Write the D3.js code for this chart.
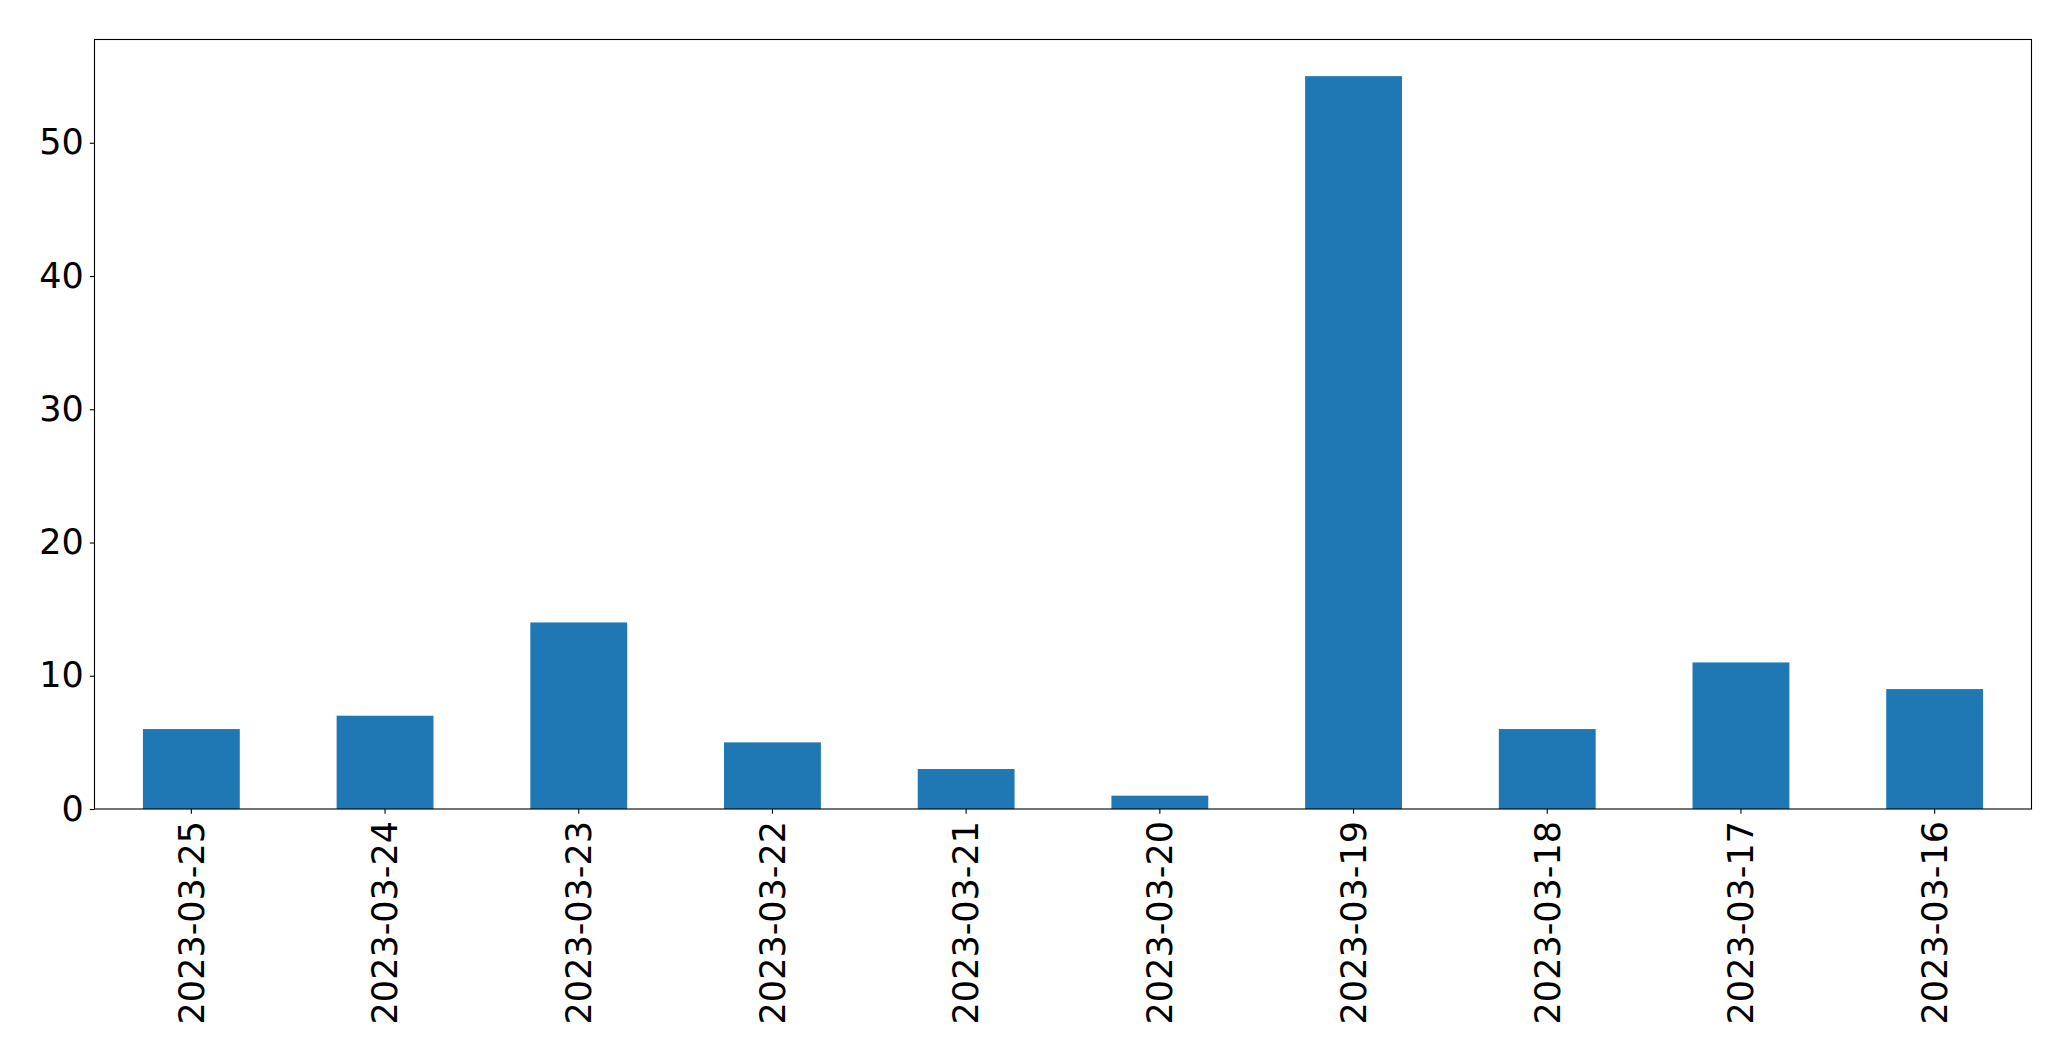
<!DOCTYPE html>
<html><head><meta charset="utf-8">
<script src="https://cdn.jsdelivr.net/npm/d3@7"></script>
<style>body{margin:0;background:#fff}svg{display:block}text{font-family:"DejaVu Sans",sans-serif;fill:#000}</style>
</head><body>
<script>
const categories = ["2023-03-25","2023-03-24","2023-03-23","2023-03-22","2023-03-21","2023-03-20","2023-03-19","2023-03-18","2023-03-17","2023-03-16"];
const values = [6,7,14,5,3,1,55,6,11,9];
const yTicks = [0,10,20,30,40,50];

const W = 2071, H = 1061;
const m = {left:94.5, right:2071-2031.5, top:39.5, bottom:1061-809};
const svg = d3.select("body").append("svg").attr("width",W).attr("height",H);
const iw = W-m.left-m.right, ih = H-m.top-m.bottom;
const g = svg.append("g").attr("transform",`translate(${m.left},${m.top})`);
const x = d3.scaleBand().domain(categories).range([0,iw]).paddingInner(0.5).paddingOuter(0.25);
const y = d3.scaleLinear().domain([0, d3.max(values)*1.05]).range([ih,0]);

g.selectAll("rect.bar").data(values).join("rect").attr("class","bar")
  .attr("x",(d,i)=>x(categories[i])).attr("width",x.bandwidth())
  .attr("y",d=>y(d)).attr("height",d=>ih-y(d)).attr("fill","#1f77b4");

const fs = 35;
const ya = g.append("g").call(d3.axisLeft(y).tickValues(yTicks).tickFormat(d3.format("d")).tickSize(4.7).tickSizeOuter(0).tickPadding(6));
ya.select(".domain").remove();
ya.selectAll("line").attr("stroke","#000").attr("stroke-width",1.1);
ya.selectAll("text").attr("font-size",fs).attr("fill","#000").style("font-family","DejaVu Sans");

const xa = g.append("g").attr("transform",`translate(0,${ih})`).call(d3.axisBottom(x).tickSize(4.7).tickSizeOuter(0).tickPadding(0));
xa.select(".domain").remove();
xa.selectAll("line").attr("stroke","#000").attr("stroke-width",1.1);
xa.selectAll("text").attr("font-size",fs).attr("fill","#000").style("font-family","DejaVu Sans")
  .attr("transform","rotate(-90)").attr("text-anchor","end").attr("dy","0.35em").attr("x",-12).attr("y",0);

g.append("rect").attr("x",0).attr("y",0).attr("width",iw).attr("height",ih)
  .attr("fill","none").attr("stroke","#000").attr("stroke-width",1.1);
</script>
</body></html>
